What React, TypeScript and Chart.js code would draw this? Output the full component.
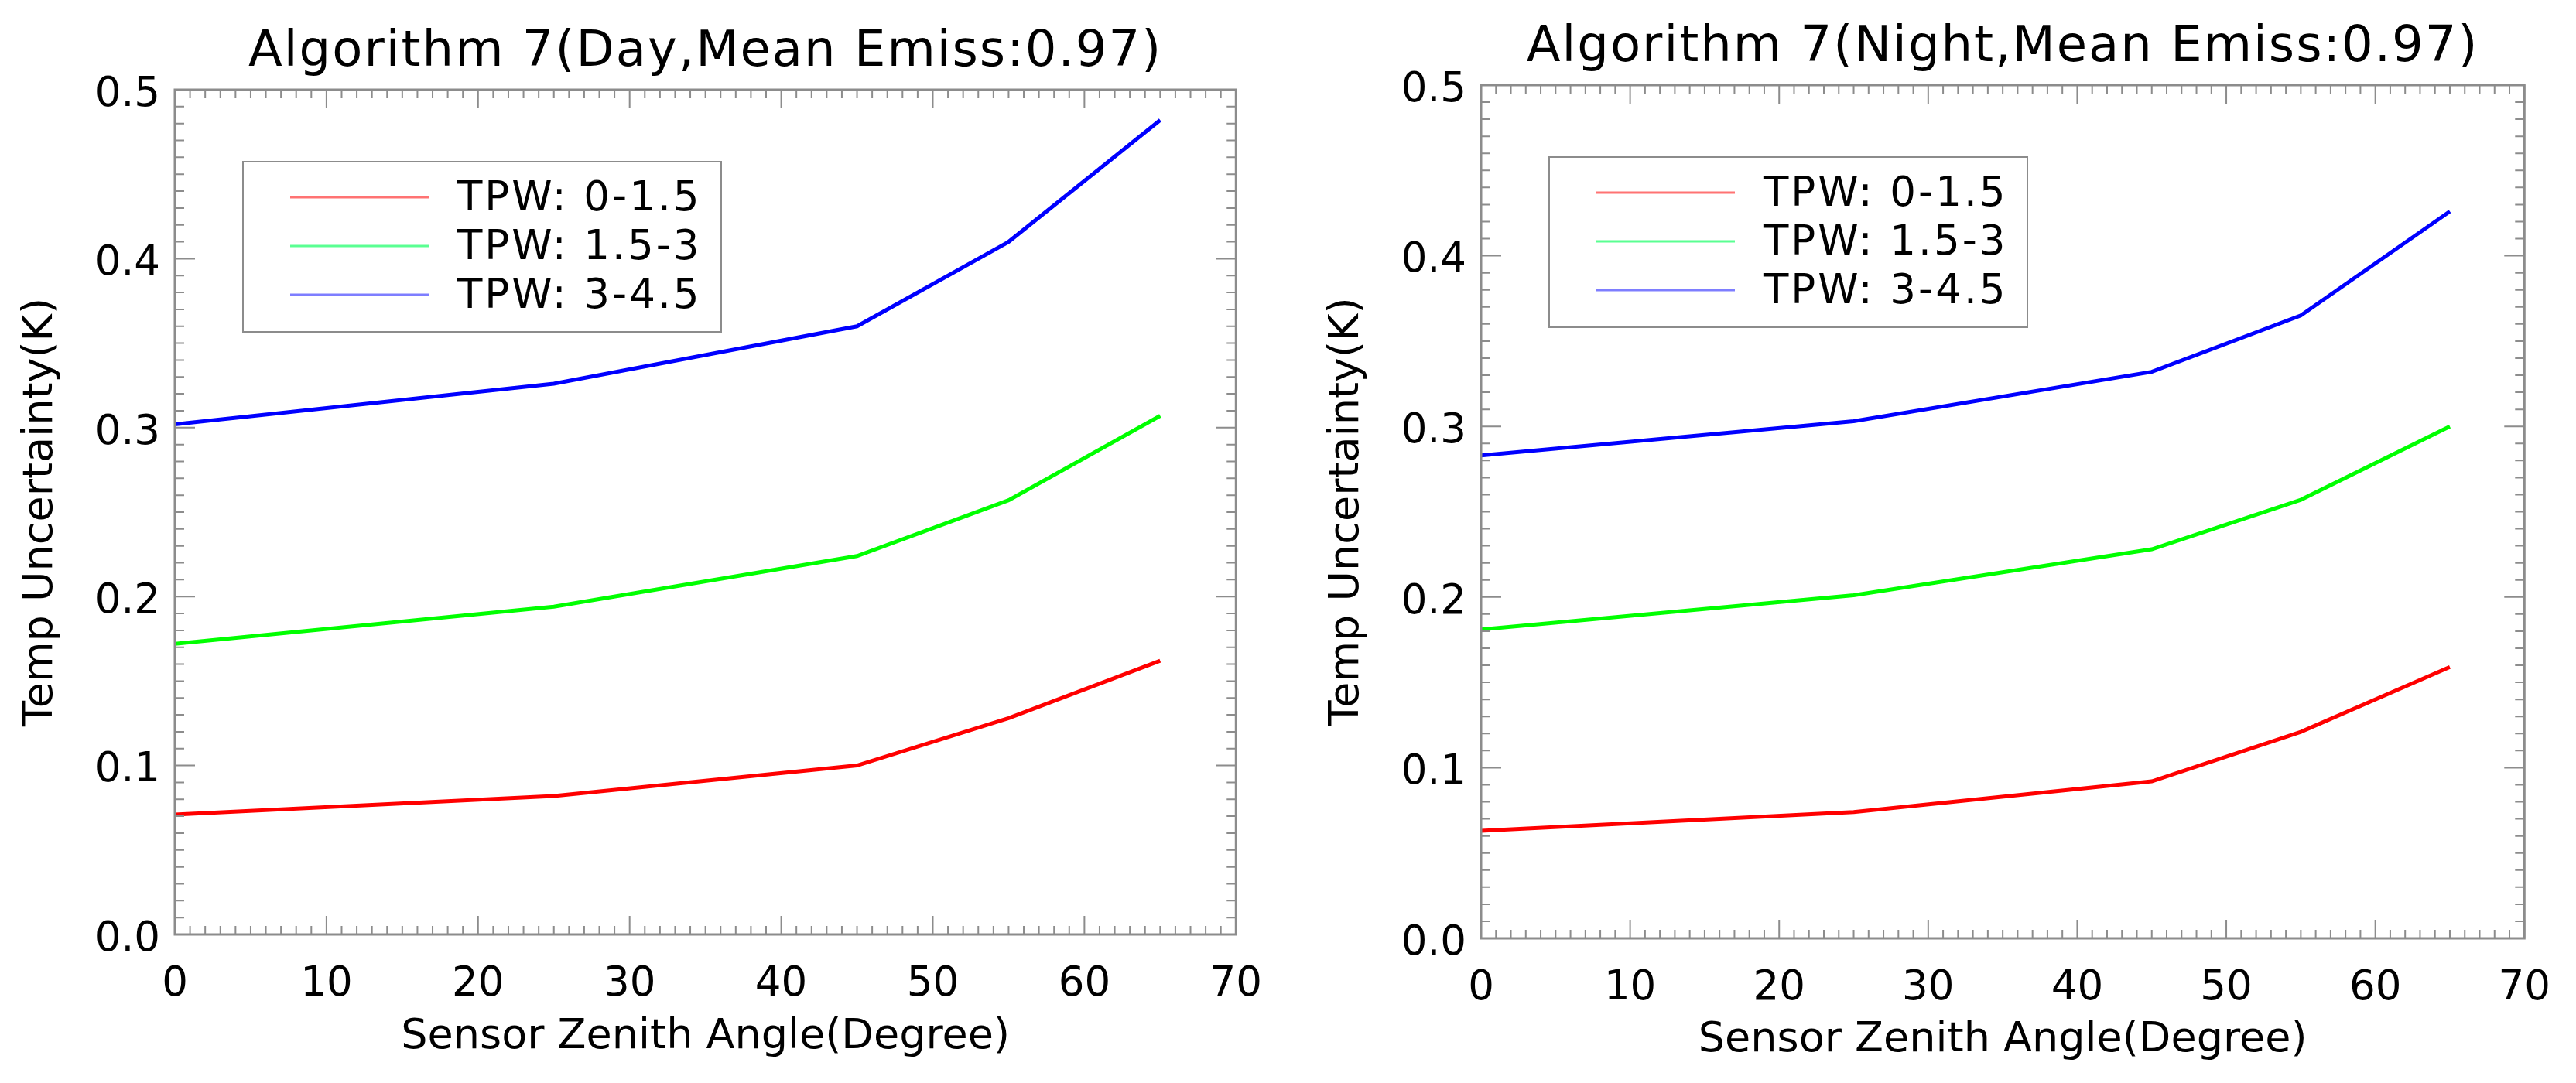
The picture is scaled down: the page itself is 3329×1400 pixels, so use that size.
import { useEffect, useRef } from "react";
import { Chart, registerables } from "chart.js";

Chart.register(...registerables);

// zenith angles where the uncertainty was computed
const angles = [0, 25, 45, 55, 65];
const tpwLabels = ["TPW: 0-1.5", "TPW: 1.5-3", "TPW: 3-4.5"];
const lineColors = ["#ff0000", "#00ff00", "#0000ff"];
const legendColors = ["rgba(255,40,40,0.65)", "rgba(20,255,100,0.7)", "rgba(40,40,255,0.6)"];

const dayLow = [0.071, 0.082, 0.1, 0.128, 0.162];
const dayMid = [0.172, 0.194, 0.224, 0.257, 0.307];
const dayHigh = [0.302, 0.326, 0.36, 0.41, 0.482];

const nightLow = [0.063, 0.074, 0.092, 0.121, 0.159];
const nightMid = [0.181, 0.201, 0.228, 0.257, 0.3];
const nightHigh = [0.283, 0.303, 0.332, 0.365, 0.426];

const xRange = [0, 70];
const yRange = [0, 0.5];

const FONT = "'DejaVu Sans', sans-serif";

// IDL style box: title over the plot, inward ticks on all four sides, legend box
const idlFrame = {
  id: "idlFrame",
  afterDatasetsDraw(chart: any, _args: any, opts: any) {
    const { ctx, chartArea: a, scales } = chart;
    const xs = scales.x;
    const ys = scales.y;
    ctx.save();
    ctx.strokeStyle = "#8c8c8c";
    ctx.lineWidth = 2;
    ctx.beginPath();
    for (let v = xRange[0]; v <= xRange[1]; v++) {
      const px = xs.getPixelForValue(v);
      const len = v % 10 === 0 ? 24 : 11;
      ctx.moveTo(px, a.bottom);
      ctx.lineTo(px, a.bottom - len);
      ctx.moveTo(px, a.top);
      ctx.lineTo(px, a.top + len);
    }
    for (let i = 0; i <= 50; i++) {
      const py = ys.getPixelForValue(i / 100);
      const len = i % 10 === 0 ? 26 : 12;
      ctx.moveTo(a.left, py);
      ctx.lineTo(a.left + len, py);
      ctx.moveTo(a.right, py);
      ctx.lineTo(a.right - len, py);
    }
    ctx.stroke();
    ctx.lineWidth = 3;
    ctx.strokeRect(a.left, a.top, a.width, a.height);

    // title, centred on the plot box
    ctx.fillStyle = "#000";
    ctx.font = "64px " + FONT;
    ctx.textAlign = "center";
    ctx.textBaseline = "alphabetic";
    ctx.letterSpacing = "2px";
    ctx.fillText(opts.title, (a.left + a.right) / 2, a.top - 31);

    // legend
    const bx = a.left + 88;
    const by = a.top + 93;
    ctx.lineWidth = 2;
    ctx.strokeStyle = "#8c8c8c";
    ctx.strokeRect(bx, by, 618, 220);
    ctx.font = "53px " + FONT;
    ctx.letterSpacing = "3px";
    ctx.textBaseline = "middle";
    ctx.textAlign = "left";
    chart.data.datasets.forEach((ds: any, i: number) => {
      const ry = by + 46 + i * 63;
      ctx.strokeStyle = legendColors[i];
      ctx.lineWidth = 3;
      ctx.beginPath();
      ctx.moveTo(bx + 61, ry);
      ctx.lineTo(bx + 240, ry);
      ctx.stroke();
      ctx.fillText(ds.label, bx + 277, ry + 3);
    });
    ctx.letterSpacing = "0px";
    ctx.restore();
  },
};

type Layout = {
  width: number;
  top: number;
  right: number;
  yWidth: number;
  xHeight: number;
  yTitlePad: number;
  xTitlePad: number;
};

function Panel({ title, series, layout }: { title: string; series: number[][]; layout: Layout }) {
  const canvasRef = useRef<HTMLCanvasElement>(null);

  useEffect(() => {
    if (!canvasRef.current) return;
    const chart = new Chart(canvasRef.current, {
      type: "line",
      data: {
        datasets: series.map((vals, i) => ({
          label: tpwLabels[i],
          data: angles.map((a, j) => ({ x: a, y: vals[j] })),
          borderColor: lineColors[i],
          borderWidth: 5,
          pointRadius: 0,
          tension: 0,
          fill: false,
        })),
      },
      options: {
        responsive: false,
        animation: false,
        devicePixelRatio: 1,
        layout: { padding: { left: 0, right: layout.right, top: layout.top, bottom: 0 } },
        plugins: {
          legend: { display: false },
          tooltip: { enabled: false },
          title: { display: false },
          idlFrame: { title },
        } as any,
        scales: {
          x: {
            type: "linear",
            min: xRange[0],
            max: xRange[1],
            grid: { display: false, drawTicks: false },
            border: { display: false },
            ticks: { stepSize: 10, color: "#000", padding: 33, font: { family: FONT, size: 53 } },
            title: {
              display: true,
              text: "Sensor Zenith Angle(Degree)",
              color: "#000",
              font: { family: FONT, size: 54 },
              padding: { top: 0, bottom: layout.xTitlePad },
            },
            afterFit: (s: any) => {
              s.height = layout.xHeight;
            },
          },
          y: {
            type: "linear",
            min: yRange[0],
            max: yRange[1],
            grid: { display: false, drawTicks: false },
            border: { display: false },
            ticks: {
              stepSize: 0.1,
              color: "#000",
              padding: 19,
              labelOffset: 7,
              font: { family: FONT, size: 53 },
              callback: (v: any) => Number(v).toFixed(1),
            },
            title: {
              display: true,
              text: "Temp Uncertainty(K)",
              color: "#000",
              font: { family: FONT, size: 54 },
              padding: { top: layout.yTitlePad, bottom: 0 },
            },
            afterFit: (s: any) => {
              s.width = layout.yWidth;
            },
          },
        },
      },
      plugins: [idlFrame],
    });
    return () => chart.destroy();
  }, [title, series, layout]);

  return (
    <canvas
      ref={canvasRef}
      width={layout.width}
      height={1400}
      style={{ width: layout.width, height: 1400, display: "block" }}
    />
  );
}

const leftLayout: Layout = {
  width: 1664,
  top: 116,
  right: 64,
  yWidth: 226,
  xHeight: 192,
  yTitlePad: 21,
  xTitlePad: 27,
};

const rightLayout: Layout = {
  width: 1665,
  top: 110,
  right: 57,
  yWidth: 250,
  xHeight: 187,
  yTitlePad: 45,
  xTitlePad: 23,
};

const daySeries = [dayLow, dayMid, dayHigh];
const nightSeries = [nightLow, nightMid, nightHigh];

export default function App() {
  useEffect(() => {
    document.body.style.margin = "0";
  }, []);

  return (
    <div style={{ display: "flex", width: 3329, height: 1400, background: "#fff" }}>
      <Panel title="Algorithm 7(Day,Mean Emiss:0.97)" series={daySeries} layout={leftLayout} />
      <Panel title="Algorithm 7(Night,Mean Emiss:0.97)" series={nightSeries} layout={rightLayout} />
    </div>
  );
}
